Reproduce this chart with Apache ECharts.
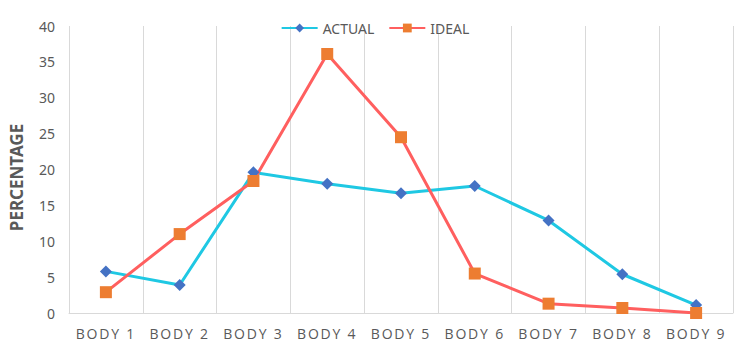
<!DOCTYPE html>
<html>
<head>
<meta charset="utf-8">
<title>Percentage by body</title>
<style>
	html, body { margin: 0; padding: 0; background: #fff; }
	#chart { width: 750px; height: 351px; }
	/* x axis labels are spaced out in the original */
	#chart text[style*="Open Sans"] { letter-spacing: 1.8px; }
</style>
<script src="https://cdn.jsdelivr.net/npm/echarts@6/dist/echarts.min.js"></script>
</head>
<body>
<div id="chart"></div>
<script>
// categories and series
var categories = ['BODY 1', 'BODY 2', 'BODY 3', 'BODY 4', 'BODY 5', 'BODY 6', 'BODY 7', 'BODY 8', 'BODY 9'];
var actual = [5.8, 3.9, 19.6, 18.0, 16.7, 17.7, 12.9, 5.4, 1.1];
var ideal = [2.9, 11.0, 18.4, 36.1, 24.5, 5.5, 1.3, 0.7, 0];
var yTicks = { min: 0, max: 40, interval: 5 };

var textColor = '#595959';
var gridColor = '#d9d9d9';
var font = '"Noto Sans", sans-serif';

var chart = echarts.init(document.getElementById('chart'), null, { renderer: 'svg' });
chart.setOption({
	animation: false,
	textStyle: { fontFamily: font },
	legend: {
		top: 16,
		left: 'center',
		itemWidth: 36,
		itemHeight: 11,
		itemGap: 14,
		textStyle: { color: textColor, fontSize: 14, fontFamily: font },
		data: ['ACTUAL', 'IDEAL']
	},
	grid: { left: 69, right: 17, top: 26, bottom: 38 },
	xAxis: {
		type: 'category',
		data: categories,
		boundaryGap: true,
		axisLine: { show: true, lineStyle: { color: gridColor, width: 1 } },
		axisTick: { show: false },
		axisLabel: { color: textColor, fontSize: 14, margin: 13, fontFamily: '"Open Sans", sans-serif' },
		splitLine: { show: true, showMinLine: true, showMaxLine: true, lineStyle: { color: gridColor, width: 1 } }
	},
	yAxis: {
		type: 'value',
		min: yTicks.min,
		max: yTicks.max,
		interval: yTicks.interval,
		name: 'PERCENTAGE',
		nameLocation: 'middle',
		nameGap: 44,
		nameTextStyle: { color: textColor, fontSize: 17, fontWeight: 'bold', fontFamily: font, padding: [0, 16, 0, 0] },
		axisLine: { show: false },
		axisTick: { show: false },
		axisLabel: { color: textColor, fontSize: 14, margin: 14, fontFamily: font },
		splitLine: { show: false }
	},
	series: [{
		name: 'ACTUAL',
		type: 'line',
		data: actual,
		symbol: 'diamond',
		symbolSize: 12,
		lineStyle: { color: '#1FC8E3', width: 3 },
		itemStyle: { color: '#4472C4' }
	}, {
		name: 'IDEAL',
		type: 'line',
		data: ideal,
		symbol: 'rect',
		symbolSize: 12,
		lineStyle: { color: '#FF5F5F', width: 3 },
		itemStyle: { color: '#ED7D31' }
	}]
});
</script>
</body>
</html>
